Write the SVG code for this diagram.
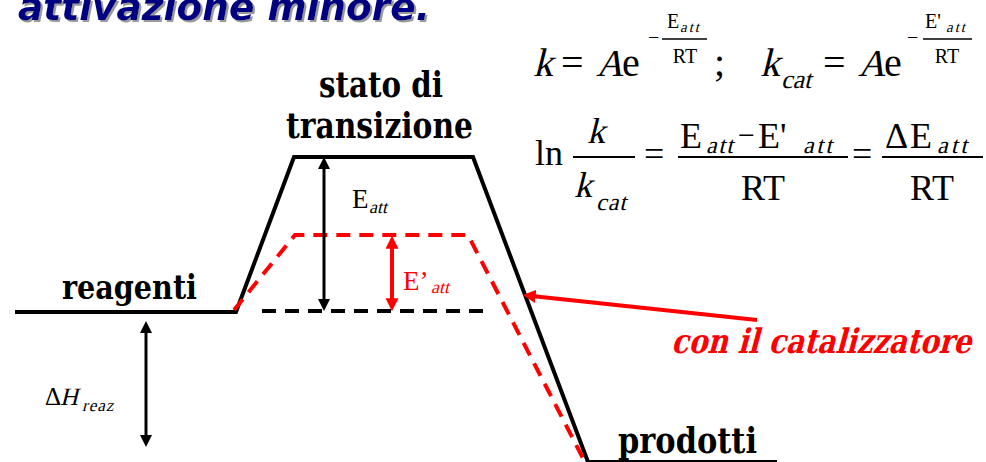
<svg xmlns="http://www.w3.org/2000/svg" width="986" height="462" viewBox="0 0 986 462">
<defs>
<style>
.bd{font-family:"DejaVu Serif",serif;font-weight:bold}
.red{fill:#f00}
.bar{stroke:#000;stroke-width:2}
.bar1{stroke:#000;stroke-width:1.3}
.curve{fill:none;stroke:#000;stroke-width:4;stroke-linejoin:miter}
.dash{fill:none;stroke-width:4;stroke-dasharray:14 9}
</style>
<filter id="sh" x="-5%" y="-20%" width="110%" height="150%">
<feDropShadow dx="2" dy="2" stdDeviation="0.4" flood-color="#9a9a9a" flood-opacity="1"/>
</filter>
<marker id="aB" viewBox="0 0 12 12" refX="8" refY="6" markerWidth="12" markerHeight="12" markerUnits="userSpaceOnUse" orient="auto-start-reverse">
<path d="M0,0 L12,6 L0,12 z" fill="#000"/>
</marker>
<marker id="aR" viewBox="0 0 12 12" refX="8" refY="6" markerWidth="13" markerHeight="13" markerUnits="userSpaceOnUse" orient="auto-start-reverse">
<path d="M0,0 L12,6 L0,12 z" fill="#f00"/>
</marker>
</defs>
<rect width="986" height="462" fill="#fff"/>

<g id="title">
<text x="18" y="20" font-family="DejaVu Sans, sans-serif" font-weight="bold" font-style="italic" font-size="38" fill="#000080" textLength="412" lengthAdjust="spacingAndGlyphs" filter="url(#sh)">attivazione minore.</text>
</g>

<g id="equation1" font-family="Liberation Serif, serif" fill="#000">
<text transform="translate(533,76) skewX(-14)" font-size="40">k</text>
<text x="561" y="76" font-size="40">=</text>
<text transform="translate(596,76) skewX(-14)" font-size="38">A</text>
<text x="622" y="76" font-size="40">e</text>
<text x="648" y="44" font-size="20">−</text>
<line x1="662" y1="39" x2="707" y2="39" class="bar1"/>
<text x="667" y="28" font-size="20">E</text>
<text transform="translate(680,32) skewX(-14)" font-size="15" letter-spacing="2">att</text>
<text x="685" y="63" font-size="20" text-anchor="middle">RT</text>
<text x="714" y="76" font-size="40">;</text>
<text transform="translate(760,76) skewX(-14)" font-size="40">k</text>
<text transform="translate(781,88) skewX(-14)" font-size="26">cat</text>
<text x="823" y="76" font-size="40">=</text>
<text transform="translate(858,76) skewX(-14)" font-size="38">A</text>
<text x="884" y="76" font-size="40">e</text>
<text x="907" y="44" font-size="20">−</text>
<line x1="923" y1="39" x2="972" y2="39" class="bar1"/>
<text x="925" y="28" font-size="20">E'</text>
<text transform="translate(946,32) skewX(-14)" font-size="15" letter-spacing="2">att</text>
<text x="947" y="63" font-size="20" text-anchor="middle">RT</text>
</g>

<g id="equation2" font-family="Liberation Serif, serif" fill="#000">
<text x="535" y="165" font-size="36">ln</text>
<line x1="573" y1="157" x2="635" y2="157" class="bar"/>
<text transform="translate(587,143) skewX(-14)" font-size="36">k</text>
<text transform="translate(574,197) skewX(-14)" font-size="36">k</text>
<text transform="translate(596,210) skewX(-14)" font-size="24" letter-spacing="1">cat</text>
<text x="644" y="166" font-size="36">=</text>
<line x1="678" y1="157" x2="848" y2="157" class="bar"/>
<text x="680" y="148" font-size="36">E</text>
<text transform="translate(706,153) skewX(-14)" font-size="24" letter-spacing="1.5">att</text>
<text x="738" y="145" font-size="30">−</text>
<text x="758" y="148" font-size="36">E'</text>
<text transform="translate(803,153) skewX(-14)" font-size="24" letter-spacing="2.5">att</text>
<text x="763" y="200" font-size="36" text-anchor="middle">RT</text>
<text x="852" y="166" font-size="36">=</text>
<line x1="882" y1="157" x2="983" y2="157" class="bar"/>
<text x="885" y="148" font-size="36">Δ</text>
<text x="910" y="148" font-size="36">E</text>
<text transform="translate(937,153) skewX(-14)" font-size="24" letter-spacing="3">att</text>
<text x="932" y="200" font-size="36" text-anchor="middle">RT</text>
</g>

<g id="profiles">
<polyline id="profile-uncatalyzed" class="curve" points="15,312 236,312 294,157 473,157 588,462"/>
<line x1="588" y1="462" x2="777" y2="462" stroke="#000" stroke-width="4"/>
<polyline id="profile-catalyzed" class="dash" stroke="#f00" points="234,310 295,235 468,235 587,466"/>
<line id="baseline-dashed" class="dash" stroke="#000" x1="262" y1="311" x2="490" y2="311"/>
</g>

<g id="labels" font-family="Liberation Serif, serif" fill="#000">
<g id="stato-di-transizione">
<text x="319" y="97" font-size="35" class="bd" textLength="124" lengthAdjust="spacingAndGlyphs">stato di</text>
<text x="286" y="138" font-size="35" class="bd" textLength="187" lengthAdjust="spacingAndGlyphs">transizione</text>
</g>
<g id="reagenti"><text x="62" y="299" font-size="34" class="bd" textLength="135" lengthAdjust="spacingAndGlyphs">reagenti</text></g>
<g id="prodotti"><text x="618" y="453" font-size="35" class="bd" textLength="139" lengthAdjust="spacingAndGlyphs">prodotti</text></g>
<g id="catalizzatore"><text transform="translate(671,353) skewX(-15)" font-size="34" class="bd red" textLength="300" lengthAdjust="spacingAndGlyphs">con il catalizzatore</text></g>
<g id="Eatt">
<text x="352" y="208" font-size="27">E</text>
<text transform="translate(369,213) skewX(-14)" font-size="18">att</text>
</g>
<g id="Eatt-cat">
<text x="403" y="290" font-size="27" class="red">E’</text>
<text transform="translate(431,293) skewX(-14)" font-size="18" class="red">att</text>
</g>
<g id="DeltaH">
<text x="45" y="405" font-size="25">Δ</text>
<text transform="translate(60,405) skewX(-14)" font-size="25">H</text>
<text transform="translate(82,411) skewX(-14)" font-size="17" letter-spacing="1">reaz</text>
</g>
</g>

<g id="connectors">
<line x1="324" y1="161" x2="324" y2="307" stroke="#000" stroke-width="3" marker-start="url(#aB)" marker-end="url(#aB)"/>
<line x1="392" y1="240" x2="392" y2="307" stroke="#f00" stroke-width="4" marker-start="url(#aR)" marker-end="url(#aR)"/>
<line x1="146" y1="325" x2="146" y2="443" stroke="#000" stroke-width="3" marker-start="url(#aB)" marker-end="url(#aB)"/>
<line x1="757" y1="320" x2="527" y2="295.5" stroke="#f00" stroke-width="4" marker-end="url(#aR)"/>
</g>
</svg>
